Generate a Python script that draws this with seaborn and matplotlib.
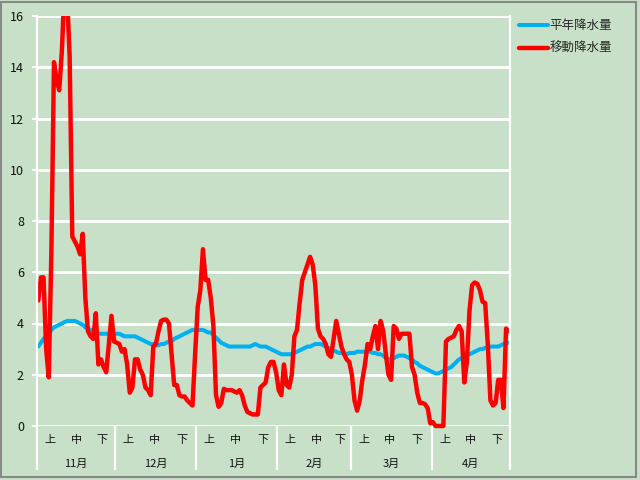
import numpy as np
import pandas as pd
import seaborn as sns
import matplotlib.pyplot as plt
from matplotlib.patches import Rectangle

# daily values, Nov 1 .. Apr 30
months = ["11月", "12月", "1月", "2月", "3月", "4月"]
month_days = [30, 31, 31, 28, 31, 30]
dekads = ["上", "中", "下"]

avg_nov = [3.1, 3.25, 3.4, 3.5, 3.6, 3.75, 3.85, 3.9, 3.95, 4.0, 4.05, 4.1, 4.1, 4.1, 4.1,
           4.05, 4.0, 3.95, 3.85, 3.8, 3.75, 3.7, 3.65, 3.6, 3.6, 3.6, 3.6, 3.6, 3.6, 3.6]
avg_dec = [3.6, 3.6, 3.55, 3.5, 3.5, 3.5, 3.5, 3.5, 3.45, 3.4, 3.35, 3.3, 3.25, 3.2, 3.2,
           3.15, 3.15, 3.2, 3.2, 3.25, 3.3, 3.3, 3.4, 3.45, 3.5, 3.55, 3.6, 3.65, 3.7, 3.75, 3.75]
avg_jan = [3.75, 3.75, 3.75, 3.7, 3.65, 3.65, 3.55, 3.45, 3.35, 3.25, 3.2, 3.15, 3.1, 3.1, 3.1,
           3.1, 3.1, 3.1, 3.1, 3.1, 3.1, 3.15, 3.2, 3.15, 3.1, 3.1, 3.1, 3.05, 3.0, 2.95, 2.9]
avg_feb = [2.85, 2.8, 2.8, 2.8, 2.8, 2.8, 2.85, 2.9, 2.95, 3.0, 3.05, 3.1, 3.1, 3.15,
           3.2, 3.2, 3.2, 3.15, 3.1, 3.05, 3.0, 2.95, 2.9, 2.85, 2.85, 2.85, 2.8, 2.85]
avg_mar = [2.85, 2.85, 2.9, 2.9, 2.9, 2.9, 2.9, 2.9, 2.85, 2.85, 2.8, 2.8, 2.75, 2.65, 2.6,
           2.6, 2.65, 2.7, 2.75, 2.75, 2.75, 2.7, 2.65, 2.6, 2.5, 2.45, 2.35, 2.3, 2.25, 2.2, 2.15]
avg_apr = [2.1, 2.05, 2.05, 2.1, 2.15, 2.2, 2.25, 2.3, 2.4, 2.5, 2.6, 2.65, 2.7, 2.75, 2.8,
           2.85, 2.9, 2.95, 3.0, 3.0, 3.05, 3.05, 3.1, 3.1, 3.1, 3.1, 3.15, 3.2, 3.25, 3.25]

move_nov = [4.9, 5.8, 5.8, 3.0, 1.9, 6.8, 14.2, 13.5, 13.1, 14.6, 17.0, 16.8, 14.4, 7.4, 7.2,
            7.0, 6.7, 7.5, 5.0, 3.7, 3.5, 3.4, 4.4, 2.4, 2.6, 2.3, 2.1, 3.2, 4.3, 3.3]
move_dec = [3.25, 3.2, 2.9, 3.0, 2.4, 1.3, 1.5, 2.6, 2.6, 2.2, 2.0, 1.5, 1.4, 1.2, 3.1,
            3.2, 3.7, 4.1, 4.15, 4.15, 4.0, 2.8, 1.6, 1.6, 1.2, 1.15, 1.15, 1.0, 0.9, 0.8, 2.8]
move_jan = [4.65, 5.3, 6.9, 5.7, 5.7, 5.0, 3.9, 1.2, 0.75, 0.9, 1.45, 1.4, 1.4, 1.4, 1.35,
            1.3, 1.4, 1.2, 0.8, 0.55, 0.5, 0.45, 0.45, 0.45, 1.5, 1.6, 1.7, 2.3, 2.5, 2.5, 2.1]
move_feb = [1.4, 1.2, 2.4, 1.6, 1.5, 2.0, 3.5, 3.75, 4.8, 5.7, 6.0, 6.3, 6.6, 6.3,
            5.5, 3.8, 3.5, 3.4, 3.2, 2.8, 2.7, 3.4, 4.1, 3.6, 3.1, 2.8, 2.6, 2.5]
move_mar = [2.0, 1.0, 0.6, 1.0, 1.8, 2.4, 3.2, 3.0, 3.5, 3.9, 3.0, 4.1, 3.7, 2.8, 2.0,
            1.8, 3.9, 3.8, 3.4, 3.6, 3.6, 3.6, 3.6, 2.3, 2.0, 1.3, 0.9, 0.9, 0.85, 0.7, 0.1]
move_apr = [0.15, 0.0, 0.0, 0.0, 0.0, 3.3, 3.4, 3.45, 3.5, 3.75, 3.9, 3.7, 1.7, 2.5, 4.5,
            5.5, 5.6, 5.55, 5.3, 4.85, 4.8, 3.2, 1.0, 0.8, 0.9, 1.8, 1.8, 0.7, 3.8, 3.7]

avg = avg_nov + avg_dec + avg_jan + avg_feb + avg_mar + avg_apr
move = move_nov + move_dec + move_jan + move_feb + move_mar + move_apr
df = pd.DataFrame({"day": np.arange(len(avg)), "平年降水量": avg, "移動降水量": move})

sns.set_theme(style="white")
plt.rcParams["font.family"] = ["Noto Sans CJK JP", "DejaVu Sans"]

bg = "#C8E0C8"
fig = plt.figure(figsize=(6.4, 4.8), dpi=100, facecolor=bg)
ax = fig.add_axes([37 / 640, 54 / 480, 473 / 640, 410 / 480])
ax.set_facecolor(bg)

sns.lineplot(data=df, x="day", y="平年降水量", ax=ax, color="#00B0F0", linewidth=2.9, label="平年降水量")
sns.lineplot(data=df, x="day", y="移動降水量", ax=ax, color="#FF0000", linewidth=3.2, label="移動降水量")
# let the zero-level stretch show fully, still clip at the top
ax.lines[1].set_clip_path(Rectangle((0, -0.02), 1, 1.02, transform=ax.transAxes))

ax.set_xlim(-0.5, len(df) - 0.5)
ax.set_ylim(0, 16)
ax.set_yticks(range(0, 17, 2))
ax.set_xticks([])
ax.set_xlabel("")
ax.set_ylabel("")
ax.grid(axis="y", color="white", linewidth=2)
ax.set_axisbelow(True)
for s in ["top", "bottom"]:
    ax.spines[s].set_visible(False)
for s in ["left", "right"]:
    ax.spines[s].set_color("white")
    ax.spines[s].set_linewidth(1.6)
ax.tick_params(axis="y", left=True, length=3.6, width=1.5, color="white",
               labelsize=9, labelcolor="#111111", pad=5.8)

# two-level category axis: dekads and months
bounds = np.cumsum([0] + month_days) - 0.5
ax.vlines(bounds, -0.107, 0, transform=ax.get_xaxis_transform(), colors="white",
          linewidth=1.6, clip_on=False)
start = 0
for name, n in zip(months, month_days):
    centers = [start + 4.5, start + 14.5, start + (20 + n - 1) / 2]
    for lab, c in zip(dekads, centers):
        ax.text(c, -0.034, lab, transform=ax.get_xaxis_transform(), ha="center", va="center",
                fontsize=8, color="#111111")
    ax.text(start + (n - 1) / 2, -0.092, name, transform=ax.get_xaxis_transform(),
            ha="center", va="center", fontsize=8, color="#111111")
    start += n

ax.legend(loc="upper left", bbox_to_anchor=(519 / 640, 1 - 19 / 480), bbox_transform=fig.transFigure,
          frameon=False, fontsize=9, handlelength=2.3, handletextpad=0.15, labelspacing=0.8,
          borderpad=0, borderaxespad=0)

fig.add_artist(Rectangle((1 / 640, 3 / 480), 635 / 640, 475 / 480, transform=fig.transFigure,
                         fill=False, edgecolor="#888888", linewidth=1.5))

fig.savefig("out.png", dpi=100, facecolor=bg)
